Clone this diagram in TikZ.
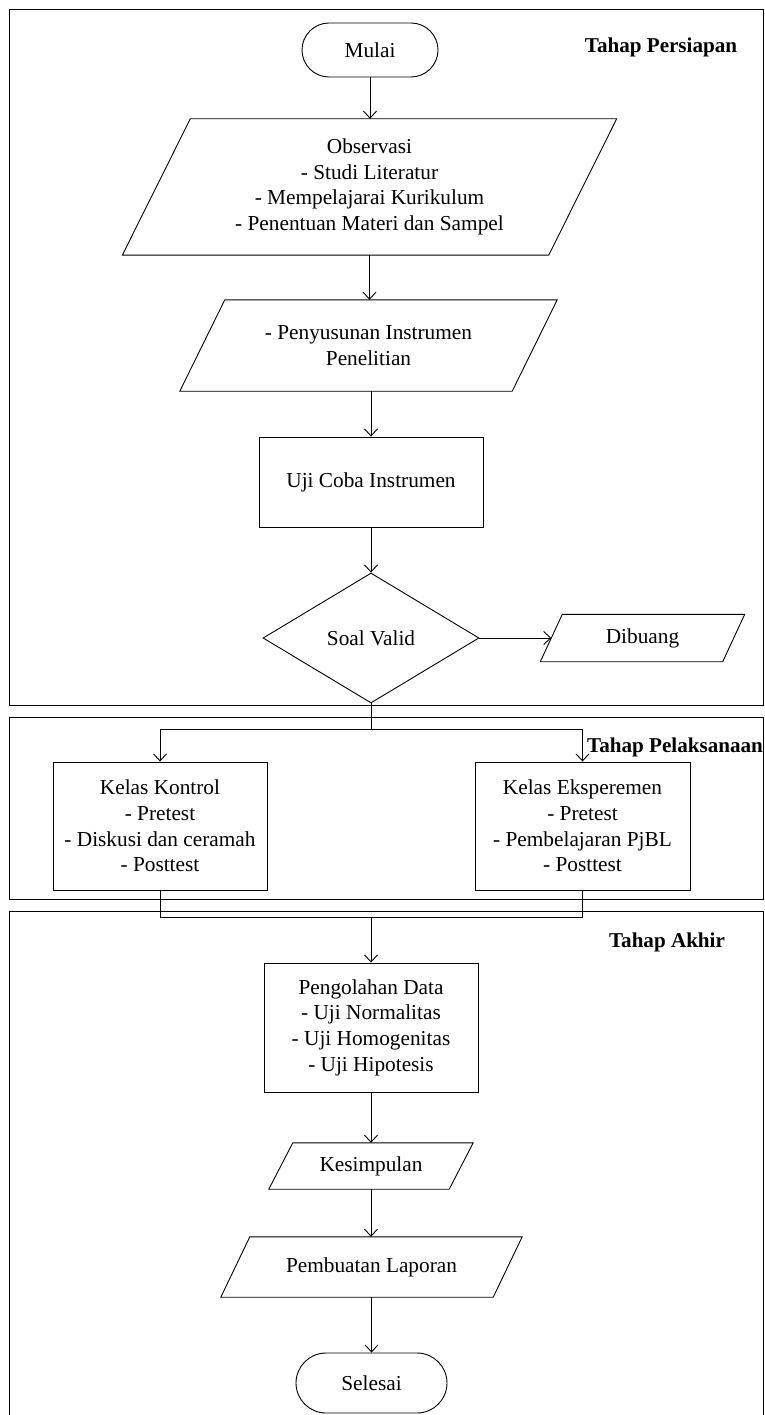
\documentclass[tikz,border=0pt]{standalone}
\usepackage{fontspec}
\setmainfont{Liberation Serif}
\usetikzlibrary{shapes.geometric,arrows.meta}
\begin{document}
\begin{tikzpicture}[x=1pt,y=-1pt,
  every node/.style={font=\fontsize{21.3}{25.7}\selectfont, inner sep=0pt, align=center},
  line/.style={draw=black, line width=0.9pt},
  arr/.style={line, -{Straight Barb[length=7pt,width=13pt]}},
  sect/.style={draw=black, line width=1pt},
  stepbox/.style={rectangle, draw=black, line width=0.9pt},
  termbox/.style={rectangle, draw=black, line width=0.9pt},
  parabox/.style={rectangle, draw=none},
  decbox/.style={diamond, draw=black, line width=0.9pt, aspect=1.66},
  title/.style={font=\fontsize{21.1}{25}\selectfont\bfseries}
]
\useasboundingbox (0,0) rectangle (765,1415);

% section frames
\draw[sect] (9,10) rectangle (763,705);
\draw[sect] (9,717) rectangle (763,899);
\draw[sect] (9,1416) -- (9,911) -- (763,911) -- (763,1416);

% titles
\node[title] (t1) at (661,47) {Tahap Persiapan};
\node[title, anchor=west] (t2) at (587,747) {Tahap Pelaksanaan};
\node[title] (t3) at (667,942) {Tahap Akhir};

% nodes
\node[termbox, minimum width=136pt, minimum height=54pt, rounded corners=27pt] (mulai) at (370,50) {Mulai};

\node[parabox, minimum width=426pt, minimum height=136pt] (obs) at (369.5,187)
  {Observasi\\- Studi Literatur\\- Mempelajarai Kurikulum\\- Penentuan Materi dan Sampel};
\draw[line] ([xshift=34pt]obs.north west) -- ([xshift=34pt]obs.north east) -- ([xshift=-34pt]obs.south east) -- ([xshift=-34pt]obs.south west) -- cycle;

\node[parabox, minimum width=332pt, minimum height=91pt] (pen) at (368.5,345.5)
  {- Penyusunan Instrumen\\Penelitian};
\draw[line] ([xshift=22.5pt]pen.north west) -- ([xshift=22.5pt]pen.north east) -- ([xshift=-22.5pt]pen.south east) -- ([xshift=-22.5pt]pen.south west) -- cycle;

\node[stepbox, minimum width=224pt, minimum height=90pt] (uji) at (371,482) {Uji Coba Instrumen};

\node[decbox, minimum width=216pt, minimum height=130pt] (valid) at (371,638) {Soal Valid};

\node[parabox, minimum width=182pt, minimum height=47pt] (buang) at (642.5,638) {Dibuang};
\draw[line] ([xshift=11pt]buang.north west) -- ([xshift=11pt]buang.north east) -- ([xshift=-11pt]buang.south east) -- ([xshift=-11pt]buang.south west) -- cycle;

\node[stepbox, minimum width=214pt, minimum height=128pt] (kontrol) at (160,826)
  {Kelas Kontrol\\- Pretest\\- Diskusi dan ceramah\\- Posttest};
\node[stepbox, minimum width=215pt, minimum height=128pt] (eksp) at (582.5,826)
  {Kelas Eksperemen\\- Pretest\\- Pembelajaran PjBL\\- Posttest};

\node[stepbox, minimum width=214pt, minimum height=129pt] (olah) at (371,1027.5)
  {Pengolahan Data\\- Uji Normalitas\\- Uji Homogenitas\\- Uji Hipotesis};

\node[parabox, minimum width=180pt, minimum height=46pt] (simpul) at (371,1166) {Kesimpulan};
\draw[line] ([xshift=12pt]simpul.north west) -- ([xshift=12pt]simpul.north east) -- ([xshift=-12pt]simpul.south east) -- ([xshift=-12pt]simpul.south west) -- cycle;

\node[parabox, minimum width=272pt, minimum height=60pt] (lapor) at (371.5,1267) {Pembuatan Laporan};
\draw[line] ([xshift=14.5pt]lapor.north west) -- ([xshift=14.5pt]lapor.north east) -- ([xshift=-14.5pt]lapor.south east) -- ([xshift=-14.5pt]lapor.south west) -- cycle;

\node[termbox, minimum width=151pt, minimum height=60pt, rounded corners=30pt] (selesai) at (371.5,1383) {Selesai};

% connectors
\draw[arr] (mulai.south) -- (mulai.south |- obs.north);
\draw[arr] (obs.south) -- (obs.south |- pen.north);
\draw[arr] (uji.north |- pen.south) -- (uji.north);
\draw[arr] (uji.south) -- (valid.north);
\draw[arr] (valid.east) -- (buang.west);

\coordinate (split) at (371,729);
\draw[line] (valid.south) -- (split);
\draw[arr] (split) -| (kontrol.north);
\draw[arr] (split) -| (eksp.north);

\coordinate (merge) at (371,917);
\draw[line] (kontrol.south) |- (merge);
\draw[line] (eksp.south) |- (merge);
\draw[arr] (merge) -- (olah.north);

\draw[arr] (olah.south) -- (olah.south |- simpul.north);
\draw[arr] (simpul.south) -- (simpul.south |- lapor.north);
\draw[arr] (lapor.south) -- (lapor.south |- selesai.north);
\end{tikzpicture}
\end{document}
